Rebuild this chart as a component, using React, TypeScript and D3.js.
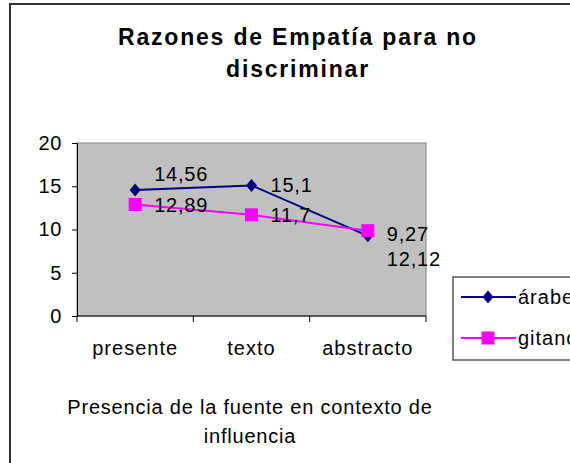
import React, { useRef, useEffect } from "react";
import { select, scaleBand, scaleLinear, axisLeft, line } from "d3";

const categories = ["presente", "texto", "abstracto"];
const arabeValues = [14.56, 15.1, 9.27];
const gitanoValues = [12.89, 11.7, 9.86];
const arabeLabels = ["14,56", "15,1", "9,27"];
const gitanoLabels = ["12,89", "11,7", "12,12"];
const seriesNames = ["árabe", "gitano"];
const yTicks = [0, 5, 10, 15, 20];

const FONT = "'Liberation Sans', Arial, sans-serif";
const W = 570;
const H = 463;

const App = () => {
  const svgRef = useRef<SVGSVGElement>(null);

  useEffect(() => {
    const svg = select(svgRef.current);
    svg.selectAll("*").remove();

    // outer chart frame (runs off the right and bottom of the picture)
    svg
      .append("rect")
      .attr("x", 10)
      .attr("y", 4)
      .attr("width", 620)
      .attr("height", 520)
      .attr("fill", "#fff")
      .attr("stroke", "#333")
      .attr("stroke-width", 2);

    // title
    const title = svg
      .append("text")
      .attr("text-anchor", "middle")
      .attr("font-family", FONT)
      .attr("font-weight", "bold")
      .attr("font-size", 23)
      .attr("letter-spacing", 1.8)
      .attr("fill", "#000");
    title.append("tspan").attr("x", 298).attr("y", 45).text("Razones de Empatía para no");
    title.append("tspan").attr("x", 298).attr("y", 77).text("discriminar");

    const xScale = scaleBand().domain(categories).range([77, 426]).padding(0);
    const yScale = scaleLinear().domain([0, 20]).range([316, 143]);
    const cx = (c: string) => (xScale(c) as number) + xScale.bandwidth() / 2;

    // plot area
    svg
      .append("rect")
      .attr("x", 77)
      .attr("y", 143)
      .attr("width", 426 - 77)
      .attr("height", 316 - 143)
      .attr("fill", "#c0c0c0")
      .attr("stroke", "#808080")
      .attr("stroke-width", 1);

    // y axis
    const yAxis = axisLeft(yScale).tickValues(yTicks).tickSize(5).tickPadding(10);
    const gy = svg.append("g").attr("transform", "translate(77,0)").call(yAxis);
    gy.select(".domain").attr("stroke", "#000");
    gy.selectAll(".tick line").attr("stroke", "#000");
    gy.selectAll(".tick text")
      .attr("font-family", FONT)
      .attr("font-size", 20)
      .attr("letter-spacing", 0.6)
      .attr("fill", "#000");

    // x axis: line + ticks between categories
    svg
      .append("line")
      .attr("x1", 77)
      .attr("x2", 426)
      .attr("y1", 316)
      .attr("y2", 316)
      .attr("stroke", "#000");
    const edges = categories.map((c) => xScale(c) as number).concat([426]);
    svg
      .selectAll(".xtick")
      .data(edges)
      .join("line")
      .attr("class", "xtick")
      .attr("x1", (d) => d)
      .attr("x2", (d) => d)
      .attr("y1", 316)
      .attr("y2", 322)
      .attr("stroke", "#000");
    svg
      .selectAll(".xlabel")
      .data(categories)
      .join("text")
      .attr("class", "xlabel")
      .attr("x", (d) => cx(d))
      .attr("y", 355)
      .attr("text-anchor", "middle")
      .attr("font-family", FONT)
      .attr("font-size", 20)
      .attr("letter-spacing", 1)
      .text((d) => d);

    // x axis title
    const xt = svg
      .append("text")
      .attr("text-anchor", "middle")
      .attr("font-family", FONT)
      .attr("font-size", 20)
      .attr("letter-spacing", 0.8);
    xt.append("tspan").attr("x", 250).attr("y", 414).text("Presencia de la fuente en contexto de");
    xt.append("tspan").attr("x", 250).attr("y", 443).text("influencia");

    const lineGen = line<number>()
      .x((d, i) => cx(categories[i]))
      .y((d) => yScale(d));

    // árabe series
    svg
      .append("path")
      .datum(arabeValues)
      .attr("d", lineGen)
      .attr("fill", "none")
      .attr("stroke", "#000080")
      .attr("stroke-width", 2);
    svg
      .selectAll(".diamond")
      .data(arabeValues)
      .join("path")
      .attr("class", "diamond")
      .attr("d", "M0,-6.5L5.5,0L0,6.5L-5.5,0Z")
      .attr("transform", (d, i) => `translate(${cx(categories[i])},${yScale(d)})`)
      .attr("fill", "#000080");

    // gitano series
    svg
      .append("path")
      .datum(gitanoValues)
      .attr("d", lineGen)
      .attr("fill", "none")
      .attr("stroke", "#ff00ff")
      .attr("stroke-width", 2);
    svg
      .selectAll(".square")
      .data(gitanoValues)
      .join("rect")
      .attr("class", "square")
      .attr("x", (d, i) => cx(categories[i]) - 6.5)
      .attr("y", (d) => yScale(d) - 6.5)
      .attr("width", 13)
      .attr("height", 13)
      .attr("fill", "#ff00ff");

    // data labels, to the right of the points (two were moved by hand)
    const arabeShift = [-16, 0, -2];
    const gitanoShift = [0, 0, 28];
    const addLabels = (cls: string, vals: number[], labels: string[], shift: number[]) =>
      svg
        .selectAll("." + cls)
        .data(vals)
        .join("text")
        .attr("class", cls)
        .attr("x", (d, i) => cx(categories[i]) + 19)
        .attr("y", (d, i) => yScale(d) + 7 + shift[i])
        .attr("font-family", FONT)
        .attr("font-size", 20)
        .attr("letter-spacing", 0.8)
        .text((d, i) => labels[i]);
    addLabels("lab-a", arabeValues, arabeLabels, arabeShift);
    addLabels("lab-g", gitanoValues, gitanoLabels, gitanoShift);

    // legend (cut off by the right edge, as in the original)
    const lg = svg.append("g");
    lg.append("rect")
      .attr("x", 453)
      .attr("y", 277)
      .attr("width", 200)
      .attr("height", 83)
      .attr("fill", "#fff")
      .attr("stroke", "#555")
      .attr("stroke-width", 1.5);
    const colors = ["#000080", "#ff00ff"];
    seriesNames.forEach((name, i) => {
      const y = 297 + i * 41;
      lg.append("line")
        .attr("x1", 461)
        .attr("x2", 516)
        .attr("y1", y)
        .attr("y2", y)
        .attr("stroke", colors[i])
        .attr("stroke-width", 2);
      if (i === 0) {
        lg.append("path")
          .attr("d", "M0,-6.5L5.5,0L0,6.5L-5.5,0Z")
          .attr("transform", `translate(488,${y})`)
          .attr("fill", colors[i]);
      } else {
        lg.append("rect")
          .attr("x", 488 - 6.5)
          .attr("y", y - 6.5)
          .attr("width", 13)
          .attr("height", 13)
          .attr("fill", colors[i]);
      }
      lg.append("text")
        .attr("x", 518)
        .attr("y", y + 7)
        .attr("font-family", FONT)
        .attr("font-size", 20)
        .attr("letter-spacing", 1)
        .text(name);
    });
  }, []);

  return (
    <svg
      ref={svgRef}
      width={W}
      height={H}
      style={{ position: "absolute", left: 0, top: 0, background: "#fff" }}
    />
  );
};

export default App;
